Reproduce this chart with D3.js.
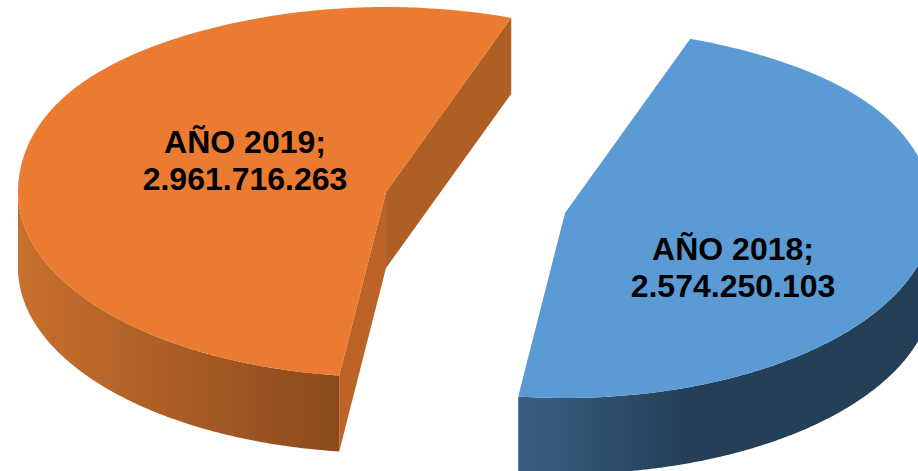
<!DOCTYPE html>
<html>
<head>
<meta charset="utf-8">
<script src="https://cdn.jsdelivr.net/npm/d3@7/dist/d3.min.js"></script>
<style>
html,body{margin:0;padding:0;background:#fff;overflow:hidden}
svg{display:block}
text{font-family:"Liberation Sans",Arial,sans-serif;font-weight:700;fill:#000}
</style>
</head>
<body>
<script>
const categories = ["AÑO 2018", "AÑO 2019"];
const values = [2574250103, 2961716263];
const topColors = ["#5B9BD5", "#EA7B30"];
const wallColors = [["#3A5F85", "#243F56"], ["#C8702E", "#8C4A1C"]];
const cutColors = [null, ["#AE5F23", "#BC6427"]];
const centers = [[565, 213], [386, 192]];
const labelCenters = [[733, 260], [245, 153]];
const wallX = [[517, 690], [18, 338]];

const W = 918, H = 471, RX = 368, RY = 185, DEPTH = 76;
const firstAngle = 19.9 * Math.PI / 180;
const BACK_BULGE = 0.1; // the far rim of the reference is slightly fuller than an ellipse

const svg = d3.select("body").append("svg").attr("width", W).attr("height", H);
const defs = svg.append("defs");

const arcs = d3.pie().sort(null).startAngle(firstAngle).endAngle(firstAngle + 2 * Math.PI)(values);
const groupingFormat = d3.formatLocale({decimal: ",", thousands: ".", grouping: [3], currency: ["", ""]}).format(",d");

const px = (c, a) => c[0] + RX * Math.sin(a);
const py = (c, a) => {
  const cosA = Math.cos(a), sinA = Math.sin(a);
  const k = cosA > 0 ? 1 + BACK_BULGE * sinA ** 4 : 1;
  return c[1] - RY * cosA * k;
};
const sweep = (from, to, n) => d3.range(0, n + 1).map(k => from + (to - from) * k / n);

arcs.forEach((d, i) => {
  const c = centers[i];
  const g = svg.append("g");

  // straight cut faces that the viewer can see
  if (cutColors[i]) {
    [d.endAngle, d.startAngle].forEach((a, k) => {
      const x1 = px(c, a), y1 = py(c, a);
      g.append("path")
        .attr("d", d3.line()([[c[0], c[1]], [x1, y1], [x1, y1 + DEPTH], [c[0], c[1] + DEPTH]]) + "Z")
        .attr("fill", cutColors[i][k]);
    });
  }

  // outer wall: only the part of the rim facing the viewer
  const from = Math.max(d.startAngle, Math.PI / 2);
  const to = Math.min(d.endAngle, 3 * Math.PI / 2);
  const gradId = "wall" + i;
  const grad = defs.append("linearGradient").attr("id", gradId)
    .attr("gradientUnits", "userSpaceOnUse")
    .attr("x1", wallX[i][0]).attr("x2", wallX[i][1]).attr("y1", 0).attr("y2", 0);
  grad.append("stop").attr("offset", 0).attr("stop-color", wallColors[i][0]);
  grad.append("stop").attr("offset", 1).attr("stop-color", wallColors[i][1]);
  const area = d3.area().x(a => px(c, a)).y0(a => py(c, a)).y1(a => py(c, a) + DEPTH);
  g.append("path").attr("d", area(sweep(from, to, 200))).attr("fill", `url(#${gradId})`);

  // top face
  const rim = sweep(d.startAngle, d.endAngle, 300).map(a => [px(c, a), py(c, a)]);
  g.append("path")
    .attr("d", d3.line()([[c[0], c[1]], ...rim]) + "Z")
    .attr("fill", topColors[i]);
});

arcs.forEach((d, i) => {
  const t = svg.append("text").attr("text-anchor", "middle").attr("font-size", 32);
  t.append("tspan").attr("x", labelCenters[i][0]).attr("y", labelCenters[i][1]).text(categories[i] + ";");
  t.append("tspan").attr("x", labelCenters[i][0]).attr("y", labelCenters[i][1] + 37).text(groupingFormat(d.value));
});
</script>
</body>
</html>
